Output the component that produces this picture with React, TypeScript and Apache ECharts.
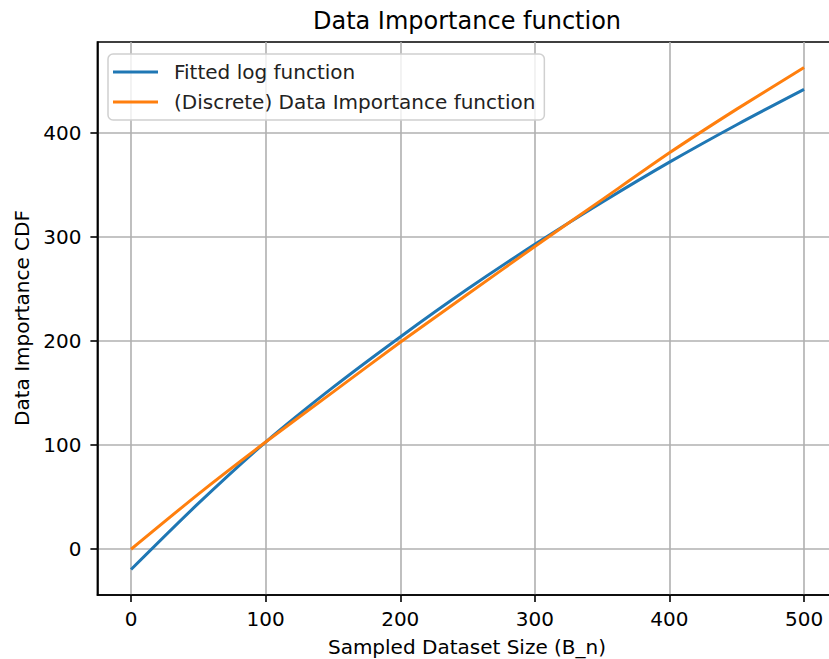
import React, { useEffect, useRef } from "react";
import * as echarts from "echarts";

const sampleSizes = [0, 50, 100, 150, 200, 250, 300, 350, 400, 450, 500];
const fittedLog = [-19.5, 44, 103, 155.5, 204, 250, 293, 333.5, 372, 408, 442];
const discreteImportance = [0, 53, 103, 151, 199, 245, 291, 336, 381, 423, 463];
const xTicks = [0, 100, 200, 300, 400, 500];
const yTicks = [0, 100, 200, 300, 400];

const FONT = "DejaVu Sans";

export default function App() {
  const ref = useRef<HTMLDivElement>(null);
  useEffect(() => {
    if (!ref.current) return;
    const chart = echarts.init(ref.current, undefined, { renderer: "svg" });
    const axisCommon = {
      type: "value" as const,
      axisLine: { show: true, onZero: false, lineStyle: { color: "#000", width: 1.6 } },
      axisTick: { show: true, length: 7, lineStyle: { color: "#000", width: 1.6 } },
      splitLine: { show: true, lineStyle: { color: "#b0b0b0", width: 1.6 } },
      axisLabel: { color: "#000", fontFamily: FONT, fontSize: 20 },
    };
    chart.setOption({
      animation: false,
      backgroundColor: "#fff",
      grid: {
        left: 97.4,
        top: 42,
        width: 740.3,
        height: 553,
        show: true,
        borderColor: "#000",
        borderWidth: 1.6,
        backgroundColor: "transparent",
        containLabel: false,
      },
      xAxis: {
        ...axisCommon,
        min: -25,
        max: 525,
        axisTick: { ...axisCommon.axisTick, customValues: xTicks },
        axisLabel: { ...axisCommon.axisLabel, customValues: xTicks, margin: 14 },
      },
      yAxis: {
        ...axisCommon,
        min: -44,
        max: 487.5,
        axisTick: { ...axisCommon.axisTick, customValues: yTicks },
        axisLabel: { ...axisCommon.axisLabel, customValues: yTicks, margin: 16 },
      },
      legend: {
        orient: "vertical",
        left: 108,
        top: 54,
        padding: [8, 9, 8, 5],
        itemGap: 10,
        itemWidth: 45,
        itemHeight: 3,
        icon: "rect",
        backgroundColor: "rgba(255,255,255,0.8)",
        borderColor: "#d0d0d0",
        borderWidth: 1.5,
        borderRadius: 5,
        textStyle: {
          color: "#222",
          fontFamily: FONT,
          fontSize: 20,
          padding: [0, 0, 0, 11],
        },
        data: ["Fitted log function", "(Discrete) Data Importance function"],
      },
      series: [
        {
          name: "Fitted log function",
          type: "line",
          data: sampleSizes.map((x, i) => [x, fittedLog[i]]),
          smooth: 0.3,
          showSymbol: false,
          lineStyle: { color: "#1f77b4", width: 3 },
          itemStyle: { color: "#1f77b4" },
        },
        {
          name: "(Discrete) Data Importance function",
          type: "line",
          data: sampleSizes.map((x, i) => [x, discreteImportance[i]]),
          smooth: 0.2,
          showSymbol: false,
          lineStyle: { color: "#ff7f0e", width: 3 },
          itemStyle: { color: "#ff7f0e" },
        },
      ],
      graphic: [
        {
          type: "text",
          x: 467,
          y: 21,
          style: {
            text: "Data Importance function",
            fontFamily: FONT,
            fontSize: 24,
            fill: "#000",
            align: "center",
            verticalAlign: "middle",
          },
        },
        {
          type: "text",
          x: 467,
          y: 647,
          style: {
            text: "Sampled Dataset Size (B_n)",
            fontFamily: FONT,
            fontSize: 20,
            fill: "#000",
            align: "center",
            verticalAlign: "middle",
          },
        },
        {
          type: "text",
          x: 22,
          y: 318,
          rotation: Math.PI / 2,
          style: {
            text: "Data Importance CDF",
            fontFamily: FONT,
            fontSize: 20,
            fill: "#000",
            align: "center",
            verticalAlign: "middle",
          },
        },
      ],
    });
    return () => chart.dispose();
  }, []);
  return (
    <div
      style={{ position: "fixed", left: 0, top: 0, width: 829, height: 659, overflow: "hidden" }}
    >
      <div ref={ref} style={{ width: 845, height: 659 }} />
    </div>
  );
}
